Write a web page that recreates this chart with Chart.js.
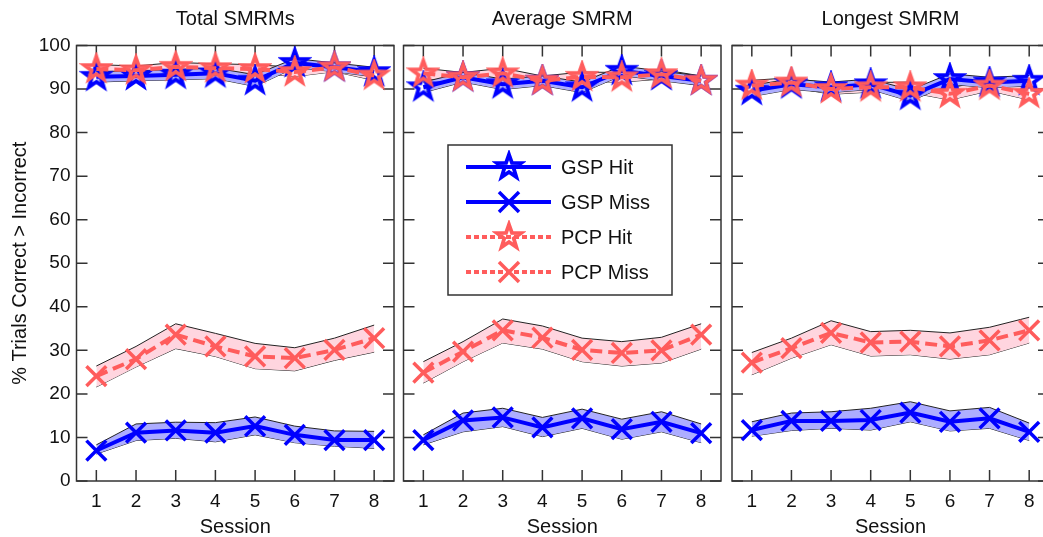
<!DOCTYPE html>
<html>
<head>
<meta charset="utf-8">
<script src="https://cdn.jsdelivr.net/npm/chart.js@4.4.0/dist/chart.umd.min.js"></script>
<style>
    html, body { margin: 0; padding: 0; background: #fff; overflow: hidden; width: 1043px; height: 537px; }
    canvas { position: absolute; top: 0; }
</style>
</head>
<body>
<canvas id="c1" width="398" height="537" style="left:0px"></canvas>
<canvas id="c2" width="330" height="537" style="left:398px"></canvas>
<canvas id="c3" width="330" height="537" style="left:726px"></canvas>
<script>
// sessions & panel titles
const sessions = ['1', '2', '3', '4', '5', '6', '7', '8'];
const panelTitles = ['Total SMRMs', 'Average SMRM', 'Longest SMRM'];
const seriesNames = ['GSP Hit', 'GSP Miss', 'PCP Hit', 'PCP Miss'];

// Total SMRMs
const totalGspHit   = [92.8, 93.0, 93.3, 93.6, 91.9, 96.0, 95.0, 93.9];
const totalGspHitHi = [94.0, 94.2, 94.5, 94.8, 93.3, 97.0, 96.0, 95.0];
const totalGspHitLo = [91.6, 91.9, 92.1, 92.4, 90.6, 94.9, 94.0, 92.8];
const totalPcpHit   = [94.6, 94.3, 95.1, 94.8, 94.6, 93.9, 95.0, 93.1];
const totalPcpHitHi = [95.6, 95.3, 96.1, 95.8, 95.6, 95.0, 96.0, 94.2];
const totalPcpHitLo = [93.6, 93.3, 94.1, 93.8, 93.6, 92.9, 94.0, 92.0];
const totalGspMiss   = [7.0, 11.1, 11.6, 11.1, 12.6, 10.6, 9.4, 9.4];
const totalGspMissHi = [8.3, 13.1, 13.5, 13.4, 14.7, 12.6, 11.5, 11.4];
const totalGspMissLo = [6.2, 9.3, 9.8, 9.0, 10.6, 8.8, 8.0, 7.5];
const totalPcpMiss   = [24.1, 28.0, 33.6, 30.9, 28.6, 28.2, 30.1, 32.8];
const totalPcpMissHi = [26.4, 30.9, 36.1, 33.9, 31.6, 30.6, 32.8, 35.8];
const totalPcpMissLo = [21.6, 26.2, 30.4, 28.6, 25.8, 25.3, 27.7, 29.6];

// Average SMRM
const avgGspHit   = [90.4, 92.7, 91.1, 91.9, 90.4, 94.2, 93.0, 91.9];
const avgGspHitHi = [91.6, 93.8, 92.3, 93.0, 91.6, 95.3, 94.1, 93.0];
const avgGspHitLo = [89.2, 91.6, 89.9, 90.8, 89.2, 93.1, 91.9, 90.8];
const avgPcpHit   = [93.6, 92.7, 93.6, 91.9, 92.8, 92.7, 93.4, 91.9];
const avgPcpHitHi = [94.8, 93.8, 94.8, 93.0, 93.9, 93.8, 94.5, 93.0];
const avgPcpHitLo = [92.4, 91.6, 92.4, 90.8, 91.7, 91.6, 92.3, 90.8];
const avgGspMiss   = [9.4, 13.9, 14.6, 12.3, 14.4, 11.9, 13.6, 11.0];
const avgGspMissHi = [10.6, 15.6, 16.7, 14.6, 16.5, 14.2, 15.9, 13.1];
const avgGspMissLo = [8.3, 11.3, 12.5, 10.2, 12.1, 9.6, 11.3, 8.8];
const avgPcpMiss   = [24.9, 29.7, 34.6, 32.9, 30.1, 29.4, 30.0, 33.6];
const avgPcpMissHi = [27.4, 32.0, 37.2, 35.6, 32.8, 32.0, 33.0, 36.1];
const avgPcpMissLo = [22.5, 27.4, 31.7, 30.3, 27.4, 26.4, 27.1, 30.3];

// Longest SMRM
const longGspHit   = [89.6, 91.1, 90.4, 91.1, 88.5, 92.3, 91.5, 91.9];
const longGspHitHi = [90.9, 92.3, 91.6, 92.3, 89.8, 93.5, 92.7, 93.1];
const longGspHitLo = [88.3, 89.9, 89.2, 89.9, 87.2, 91.1, 90.3, 90.7];
const longPcpHit   = [90.8, 91.5, 90.0, 90.4, 90.4, 88.9, 90.8, 88.9];
const longPcpHitHi = [92.0, 92.6, 91.2, 91.5, 91.6, 90.3, 92.0, 90.3];
const longPcpHitLo = [89.6, 90.4, 88.8, 89.3, 89.2, 87.5, 89.6, 87.5];
const longGspMiss   = [11.7, 13.8, 13.8, 14.0, 15.7, 13.6, 14.4, 11.3];
const longGspMissHi = [13.6, 15.6, 15.9, 16.7, 18.2, 16.1, 16.9, 13.3];
const longGspMissLo = [10.3, 11.6, 12.1, 11.7, 13.6, 11.5, 12.1, 9.3];
const longPcpMiss   = [27.2, 30.5, 34.0, 31.8, 32.0, 30.9, 32.3, 34.6];
const longPcpMissHi = [29.5, 32.8, 36.8, 34.3, 34.6, 34.0, 35.3, 37.6];
const longPcpMissLo = [24.4, 28.2, 31.3, 28.7, 29.0, 28.0, 29.0, 31.7];

const GSP = '#0000ff';
const PCP = '#ff5c5c';
const GSP_BAND = '#adadff';
const PCP_BAND = '#ffd5df';
const FONT = '"Liberation Sans", Arial, sans-serif';
const INK = '#111';

// hollow 5-point star, used as point image
function starMarker(color) {
    const R = 12.5, s = 34;
    const c = document.createElement('canvas');
    c.width = s; c.height = s;
    const g = c.getContext('2d');
    g.translate(s / 2, s / 2);
    g.beginPath();
    for (let i = 0; i < 10; i++) {
        const r = i % 2 ? R * 0.4 : R;
        const a = -Math.PI / 2 + i * Math.PI / 5;
        g.lineTo(r * Math.cos(a), r * Math.sin(a));
    }
    g.closePath();
    g.lineWidth = 3.8;
    g.lineJoin = 'miter';
    g.strokeStyle = color;
    g.stroke();
    return c;
}
const gspStar = starMarker(GSP);
const pcpStar = starMarker(PCP);

function band(hi, lo, color) {
    const common = { borderColor: '#222', borderWidth: 1, pointRadius: 0, order: 5, tension: 0 };
    return [
        Object.assign({ data: hi, fill: '+1', backgroundColor: color }, common),
        Object.assign({ data: lo, fill: false }, common)
    ];
}

function line(data, color, marker, dashed, order) {
    return {
        data: data,
        borderColor: color,
        borderWidth: 4,
        borderDash: dashed ? [12, 6] : [],
        pointStyle: marker,
        pointRadius: 14,
        pointBorderWidth: 3.5,
        pointBorderColor: color,
        pointBackgroundColor: 'rgba(0,0,0,0)',
        fill: false,
        order: order,
        clip: false
    };
}

function datasets(gh, ghHi, ghLo, ph, phHi, phLo, gm, gmHi, gmLo, pm, pmHi, pmLo) {
    return [].concat(
        band(gmHi, gmLo, GSP_BAND),
        band(pmHi, pmLo, PCP_BAND),
        band(ghHi, ghLo, GSP_BAND),
        band(phHi, phLo, PCP_BAND),
        [
            line(gh, GSP, gspStar, false, 2),
            line(gm, GSP, 'crossRot', false, 2),
            line(ph, PCP, pcpStar, true, 1),
            line(pm, PCP, 'crossRot', true, 1)
        ]
    );
}

// box with inward ticks on all four sides
const frame = {
    id: 'frame',
    beforeDatasetsDraw(chart) {
        const { ctx, chartArea: a, scales: { x, y } } = chart;
        const t = 11;
        ctx.save();
        ctx.strokeStyle = '#333';
        ctx.lineWidth = 1.5;
        ctx.beginPath();
        y.ticks.forEach(tk => {
            const py = y.getPixelForValue(tk.value);
            ctx.moveTo(a.left, py); ctx.lineTo(a.left + t, py);
            ctx.moveTo(a.right, py); ctx.lineTo(a.right - t, py);
        });
        x.ticks.forEach((tk, i) => {
            const px = x.getPixelForTick(i);
            ctx.moveTo(px, a.bottom); ctx.lineTo(px, a.bottom - t);
            ctx.moveTo(px, a.top); ctx.lineTo(px, a.top + t);
        });
        ctx.stroke();
        ctx.strokeRect(a.left, a.top, a.right - a.left, a.bottom - a.top);
        ctx.restore();
    }
};

// legend box drawn inside the middle panel
const legendBox = {
    id: 'legendBox',
    afterDraw(chart) {
        const ctx = chart.ctx;
        const bx = 50, by = 145, bw = 224, bh = 150;
        const rows = [
            { color: GSP, marker: gspStar, dash: [] },
            { color: GSP, marker: 'x', dash: [] },
            { color: PCP, marker: pcpStar, dash: [5, 3] },
            { color: PCP, marker: 'x', dash: [5, 3] }
        ];
        ctx.save();
        ctx.fillStyle = '#fff';
        ctx.fillRect(bx, by, bw, bh);
        ctx.strokeStyle = '#333';
        ctx.lineWidth = 1.5;
        ctx.strokeRect(bx, by, bw, bh);
        rows.forEach((r, i) => {
            const cy = by + 22 + i * 35;
            ctx.strokeStyle = r.color;
            ctx.lineWidth = 4;
            ctx.setLineDash(r.dash);
            ctx.beginPath();
            ctx.moveTo(bx + 18, cy); ctx.lineTo(bx + 103, cy);
            ctx.stroke();
            ctx.setLineDash([]);
            const mx = bx + 61;
            if (r.marker === 'x') {
                const d = 10;
                ctx.lineWidth = 3.5;
                ctx.beginPath();
                ctx.moveTo(mx - d, cy - d); ctx.lineTo(mx + d, cy + d);
                ctx.moveTo(mx - d, cy + d); ctx.lineTo(mx + d, cy - d);
                ctx.stroke();
            } else {
                ctx.drawImage(r.marker, mx - r.marker.width / 2, cy - r.marker.height / 2);
            }
            ctx.fillStyle = INK;
            ctx.font = '20px ' + FONT;
            ctx.textBaseline = 'middle';
            ctx.fillText(seriesNames[i], bx + 113, cy + 1);
        });
        ctx.restore();
    }
};

function makePanel(id, title, sets, yWidth, padRight, showY, extra) {
    return new Chart(document.getElementById(id), {
        type: 'line',
        data: { labels: sessions, datasets: sets },
        options: {
            responsive: false,
            animation: false,
            layout: { autoPadding: false, padding: { left: 0, right: padRight, top: 0, bottom: 0 } },
            plugins: {
                legend: { display: false },
                tooltip: { enabled: false },
                title: {
                    display: true,
                    text: title,
                    fullSize: false,
                    color: INK,
                    font: { family: FONT, size: 20, weight: 'normal', lineHeight: 1.2 },
                    padding: { top: 7, bottom: 14.5 }
                }
            },
            scales: {
                x: {
                    type: 'category',
                    offset: true,
                    grid: { display: false, drawTicks: false },
                    border: { display: false },
                    ticks: { color: INK, font: { family: FONT, size: 19 }, padding: 9, maxRotation: 0, autoSkip: false },
                    title: { display: true, text: 'Session', color: INK, font: { family: FONT, size: 20, lineHeight: 1.0 }, padding: { top: 0, bottom: 0 } },
                    afterFit(s) { s.height = 56; }
                },
                y: {
                    min: 0,
                    max: 100,
                    grid: { display: false, drawTicks: false },
                    border: { display: false },
                    ticks: { display: showY, stepSize: 10, color: INK, font: { family: FONT, size: 19 }, padding: 6 },
                    title: {
                        display: showY,
                        text: '% Trials Correct > Incorrect',
                        color: INK,
                        font: { family: FONT, size: 20, lineHeight: 1.2 },
                        padding: { top: 8, bottom: 0 }
                    },
                    afterFit(s) { s.width = yWidth; }
                }
            }
        },
        plugins: [frame].concat(extra || [])
    });
}

makePanel('c1', panelTitles[0], datasets(
    totalGspHit, totalGspHitHi, totalGspHitLo, totalPcpHit, totalPcpHitHi, totalPcpHitLo,
    totalGspMiss, totalGspMissHi, totalGspMissLo, totalPcpMiss, totalPcpMissHi, totalPcpMissLo
), 76.5, 4, true);

makePanel('c2', panelTitles[1], datasets(
    avgGspHit, avgGspHitHi, avgGspHitLo, avgPcpHit, avgPcpHitHi, avgPcpHitLo,
    avgGspMiss, avgGspMissHi, avgGspMissLo, avgPcpMiss, avgPcpMissHi, avgPcpMissLo
), 5.5, 7, false, [legendBox]);

makePanel('c3', panelTitles[2], datasets(
    longGspHit, longGspHitHi, longGspHitLo, longPcpHit, longPcpHitHi, longPcpHitLo,
    longGspMiss, longGspMissHi, longGspMissLo, longPcpMiss, longPcpMissHi, longPcpMissLo
), 6, 7, false);
</script>
</body>
</html>
